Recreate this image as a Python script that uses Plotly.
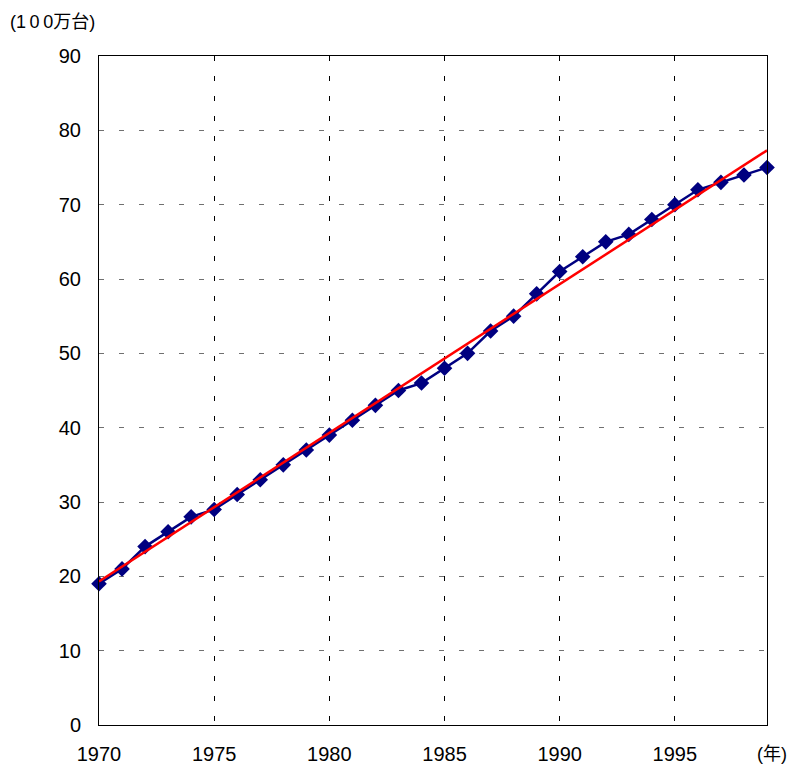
import plotly.graph_objects as go

years = list(range(1970, 2000))
values = [19, 21, 24, 26, 28, 29, 31, 33, 35, 37,
          39, 41, 43, 45, 46, 48, 50, 53, 55, 58,
          61, 63, 65, 66, 68, 70, 72, 73, 74, 75]
trend_x = [1970, 1999]
trend_y = [19.3, 77.3]
x_ticks = [1970, 1975, 1980, 1985, 1990, 1995]
y_ticks = [0, 10, 20, 30, 40, 50, 60, 70, 80, 90]

FONT = "Liberation Sans, Arial, Noto Sans CJK JP, sans-serif"

fig = go.Figure()
fig.add_trace(go.Scatter(
    x=years, y=values, mode="lines+markers",
    line=dict(color="#000080", width=2.5),
    marker=dict(symbol="diamond", size=12, color="#000080"),
    cliponaxis=False, showlegend=False))
fig.add_trace(go.Scatter(
    x=trend_x, y=trend_y, mode="lines",
    line=dict(color="#ff0000", width=2.5),
    cliponaxis=False, showlegend=False))

axis_common = dict(
    showline=True, linecolor="black", linewidth=1, mirror=True,
    showgrid=True, gridwidth=1, griddash="5px,15px",
    zeroline=False, ticks="", automargin=False,
    tickfont=dict(family=FONT, size=20, color="black"),
)
fig.update_xaxes(range=[1970, 1999], tickvals=x_ticks, gridcolor="black",
                 **axis_common, ticklabelstandoff=11)
fig.update_yaxes(range=[0, 90], tickvals=y_ticks, gridcolor="#707070",
                 **axis_common, ticklabelstandoff=13)

fig.add_annotation(
    text="(1\u20090\u20090万台)",
    xref="paper", yref="paper", x=-0.136, y=1.051,
    xanchor="left", yanchor="middle", showarrow=False,
    font=dict(family=FONT, size=18, color="black"))
fig.add_annotation(text="(年)", xref="paper", yref="paper", x=1.0, y=-0.044,
                   xanchor="right", yanchor="middle", xshift=22, showarrow=False,
                   font=dict(family=FONT, size=18, color="black"))

fig.update_layout(
    width=791, height=757,
    margin=dict(l=91, r=32, t=48, b=40),
    paper_bgcolor="white", plot_bgcolor="white",
    font=dict(family=FONT, size=20, color="black"),
)
fig.write_html("out.html")
